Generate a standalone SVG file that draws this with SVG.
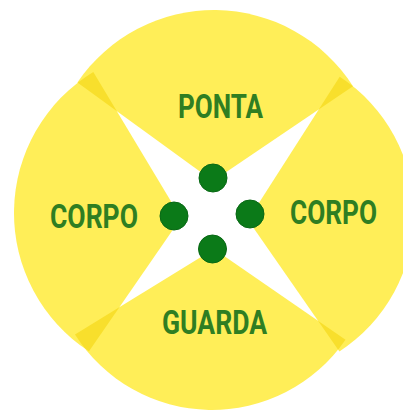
<svg xmlns="http://www.w3.org/2000/svg" xmlns:xlink="http://www.w3.org/1999/xlink" width="403" height="411" viewBox="0 0 403 411">
<style>
.wedge{fill:#FFEE58;}
.ov{fill:#F8DF2C;}
.lbl{font-family:Roboto,"DejaVu Sans Condensed",sans-serif;font-weight:bold;font-size:33px;fill:#2F7E22;}
.dot{fill:#0B7A18;stroke:#086814;stroke-width:1;}
</style>
<defs>
<path id="wTop" d="M213,181 L77.4,82.5 A165,165 0 0 1 353,86.2 Z"/>
<path id="wLeft" d="M181,218 L89,351.3 A165,165 0 0 1 93.3,72 Z"/>
<path id="wBottom" d="M214,249 L345.5,339.7 A162,162 0 0 1 75,334.5 Z"/>
<path id="wRight" d="M248,220 L339.7,76.7 A164,164 0 0 1 339.4,351.5 Z"/>
<clipPath id="cTop"><use xlink:href="#wTop"/></clipPath>
<clipPath id="cBottom"><use xlink:href="#wBottom"/></clipPath>
</defs>
<rect width="403" height="411" fill="#FFFFFF"/>
<g id="node-ponta">
<use xlink:href="#wTop" class="wedge"/>
</g>
<g id="node-corpo-left">
<use xlink:href="#wLeft" class="wedge"/>
</g>
<g id="node-corpo-right">
<use xlink:href="#wRight" class="wedge"/>
</g>
<g id="node-guarda">
<use xlink:href="#wBottom" class="wedge"/>
</g>
<g id="overlaps">
<use xlink:href="#wLeft" class="ov" clip-path="url(#cTop)"/>
<use xlink:href="#wRight" class="ov" clip-path="url(#cTop)"/>
<use xlink:href="#wLeft" class="ov" clip-path="url(#cBottom)"/>
<use xlink:href="#wRight" class="ov" clip-path="url(#cBottom)"/>
</g>
<g id="labels">
<text class="lbl" x="178" y="118" textLength="85" lengthAdjust="spacingAndGlyphs">PONTA</text>
<text class="lbl" x="50" y="228" textLength="88" lengthAdjust="spacingAndGlyphs">CORPO</text>
<text class="lbl" x="290" y="224" textLength="87" lengthAdjust="spacingAndGlyphs">CORPO</text>
<text class="lbl" x="162" y="334" textLength="105" lengthAdjust="spacingAndGlyphs">GUARDA</text>
</g>
<g id="dots">
<circle class="dot" cx="213" cy="178" r="14"/>
<circle class="dot" cx="174" cy="216" r="14"/>
<circle class="dot" cx="250" cy="214" r="14"/>
<circle class="dot" cx="212.5" cy="249" r="14"/>
</g>
</svg>
